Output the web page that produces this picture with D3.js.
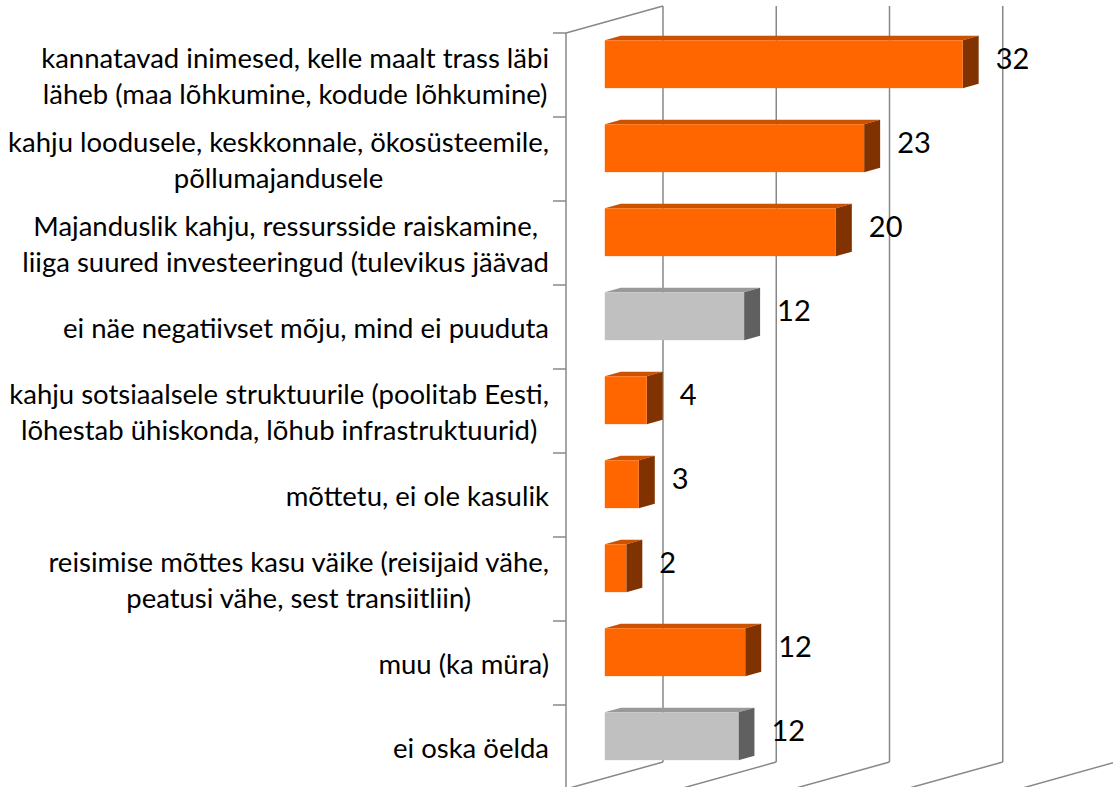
<!DOCTYPE html>
<html>
<head>
<meta charset="utf-8">
<script src="https://cdn.jsdelivr.net/npm/d3@7"></script>
<style>
  body { margin: 0; background: #fff; }
  text { font-family: Lato, "Open Sans", sans-serif; fill: #000; }
</style>
</head>
<body>
<div id="chart"></div>
<script>
// Kategooriad (reavahetus \n nagu originaalis)
const categories = [
    "kannatavad inimesed, kelle maalt trass läbi\nläheb (maa lõhkumine, kodude lõhkumine)",
    "kahju loodusele, keskkonnale, ökosüsteemile,\npõllumajandusele",
    "Majanduslik kahju, ressursside raiskamine,\nliiga suured investeeringud (tulevikus jäävad",
    "ei näe negatiivset mõju, mind ei puuduta",
    "kahju sotsiaalsele struktuurile (poolitab Eesti,\nlõhestab ühiskonda, lõhub infrastruktuurid)",
    "mõttetu, ei ole kasulik",
    "reisimise mõttes kasu väike (reisijaid vähe,\npeatusi vähe, sest transiitliin)",
    "muu (ka müra)",
    "ei oska öelda"
];

// Väärtused (%), loetud tulpade pikkusest
const values = [31.6, 22.9, 20.4, 12.3, 3.7, 3.0, 1.9, 12.4, 11.8];

// hallid tulbad: neutraalsed vastused
const barType = ["neg", "neg", "neg", "neutral", "neg", "neg", "neg", "neg", "neutral"];

const xTicks = [0, 10, 20, 30, 40];

const width = 1113, height = 787;

const colors = {
    neg: { front: "#FF6600", top: "#CC5200", side: "#803300" },
    neutral: { front: "#C0C0C0", top: "#999999", side: "#606060" }
};

const svg = d3.select("#chart")
    .append("svg")
    .attr("width", width)
    .attr("height", height);

// tagaseina skaalad
const x = d3.scaleLinear().domain([0, 40]).range([663, 1116]);
const y = d3.scaleBand()
    .domain(categories)
    .range([6, 762])
    .paddingInner(0.43)
    .paddingOuter(0.215);

// 3D sügavus: tagant ette
const depthX = -97, depthY = 27;
const dFront = 0.6, dBack = 0.435;
const proj = (px, py, d) => [px + depthX * d, py + depthY * d];

const yTop = y.range()[0], yBottom = y.range()[1];
const grid = svg.append("g").attr("stroke", "#888").attr("stroke-width", 1.5).attr("fill", "none");

// tagasein
grid.selectAll(".vline")
    .data(xTicks)
    .enter().append("line")
    .attr("x1", d => x(d)).attr("x2", d => x(d))
    .attr("y1", yTop).attr("y2", yBottom);

// põrand
grid.selectAll(".floor")
    .data(xTicks)
    .enter().append("line")
    .attr("x1", d => x(d)).attr("y1", yBottom)
    .attr("x2", d => proj(x(d), yBottom, 1)[0])
    .attr("y2", d => proj(x(d), yBottom, 1)[1]);

// külgsein
const f0 = proj(x(0), yTop, 1), f1 = proj(x(0), yBottom, 1);
grid.append("line").attr("x1", f0[0]).attr("y1", f0[1]).attr("x2", f1[0]).attr("y2", f1[1]);
grid.append("line").attr("x1", f0[0]).attr("y1", f0[1]).attr("x2", x(0)).attr("y2", yTop);

// kategooriate jaotusmärgid
const boundaries = d3.range(categories.length + 1).map(i => yTop + i * y.step());
grid.selectAll(".tick")
    .data(boundaries)
    .enter().append("line")
    .attr("x1", f0[0] - 13).attr("x2", f0[0])
    .attr("y1", d => d + depthY).attr("y2", d => d + depthY);

// tulbad
const bars = svg.selectAll(".bar")
    .data(categories.map((c, i) => ({ cat: c, value: values[i], type: barType[i] })))
    .enter().append("g")
    .attr("class", "bar");

function pts(arr) { return arr.map(p => p.join(",")).join(" "); }

bars.each(function(d) {
    const g = d3.select(this);
    const y0 = y(d.cat), y1 = y(d.cat) + y.bandwidth();
    const xa = x(0), xb = x(d.value);
    const c = colors[d.type];
    // ülemine tahk
    g.append("polygon")
        .attr("points", pts([proj(xa, y0, dFront), proj(xb, y0, dFront), proj(xb, y0, dBack), proj(xa, y0, dBack)]))
        .attr("fill", c.top);
    // külgtahk
    g.append("polygon")
        .attr("points", pts([proj(xb, y0, dFront), proj(xb, y0, dBack), proj(xb, y1, dBack), proj(xb, y1, dFront)]))
        .attr("fill", c.side);
    // esitahk
    const p0 = proj(xa, y0, dFront), p1 = proj(xb, y1, dFront);
    g.append("rect")
        .attr("x", p0[0]).attr("y", p0[1])
        .attr("width", p1[0] - p0[0]).attr("height", p1[1] - p0[1])
        .attr("fill", c.front);
});

// väärtuste sildid
const fmt = d3.format(".0f");
svg.selectAll(".value")
    .data(categories.map((c, i) => ({ cat: c, value: values[i] })))
    .enter().append("text")
    .attr("class", "value")
    .attr("x", d => proj(x(d.value), 0, dBack)[0] + 17)
    .attr("y", d => proj(0, y(d.cat) + y.bandwidth() / 2, (dFront + dBack) / 2)[1] - 3)
    .attr("dy", "0.35em")
    .style("font-size", "29px")
    .text(d => fmt(d.value));

// kategooriate sildid
const labelRight = 549;
const lineH = 36;
const labels = svg.selectAll(".cat")
    .data(categories)
    .enter().append("text")
    .attr("class", "cat")
    .attr("text-anchor", "middle")
    .style("font-size", "27.5px");

labels.each(function(d) {
    const t = d3.select(this);
    const lines = d.split("\n");
    const cy = y(d) + y.bandwidth() / 2 + 28;
    lines.forEach((ln, k) => {
        t.append("tspan")
            .attr("y", cy + (k - (lines.length - 1) / 2) * lineH)
            .attr("dy", "0.35em")
            .text(ln);
    });
    let maxW = 0;
    t.selectAll("tspan").each(function() { maxW = Math.max(maxW, this.getComputedTextLength()); });
    t.selectAll("tspan").attr("x", labelRight - maxW / 2);
});
</script>
</body>
</html>
